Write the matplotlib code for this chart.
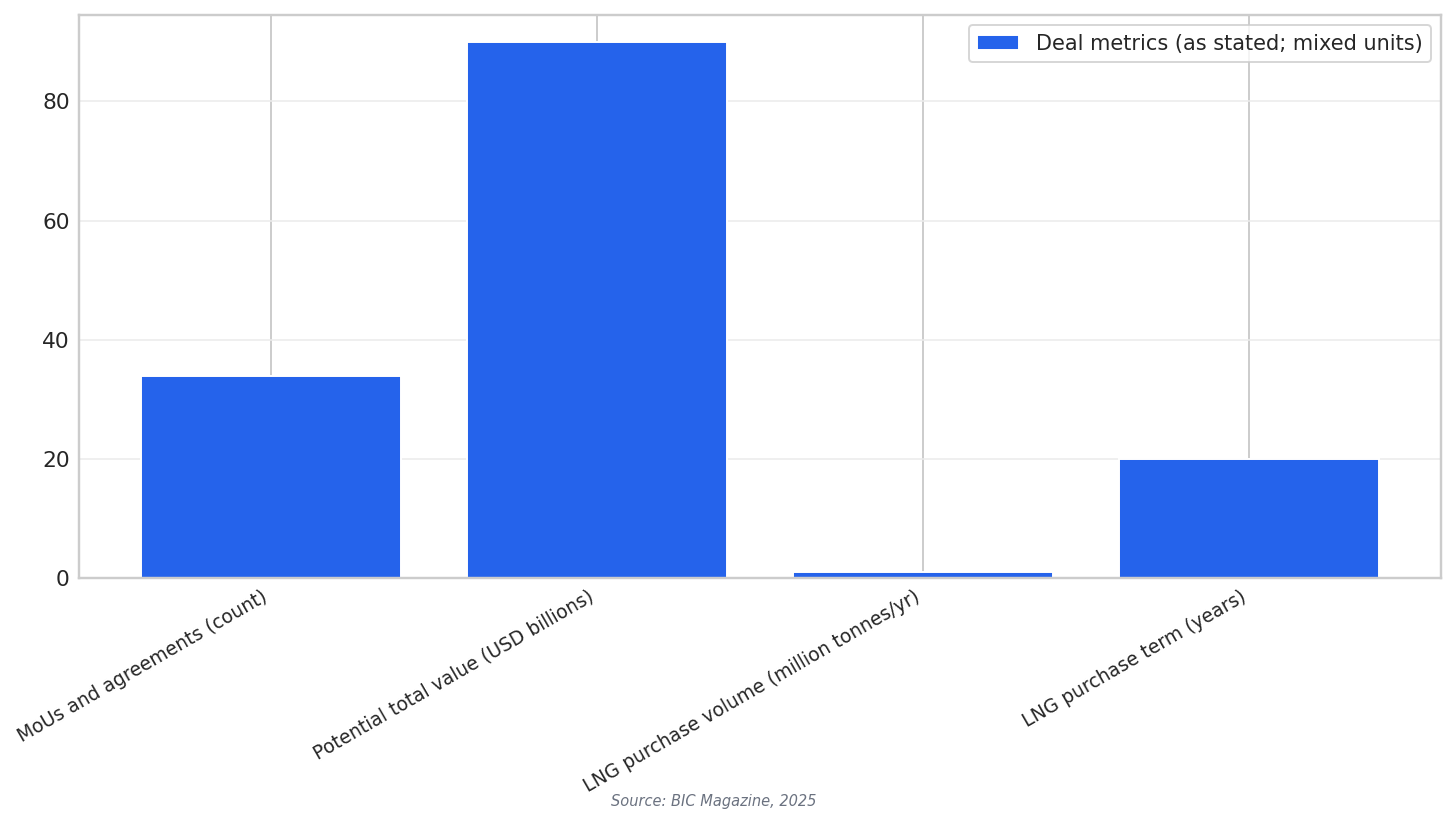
import matplotlib
matplotlib.use('Agg')
import matplotlib.pyplot as plt
import seaborn as sns

categories = [
    'MoUs and agreements (count)',
    'Potential total value (USD billions)',
    'LNG purchase volume (million tonnes/yr)',
    'LNG purchase term (years)',
]
values = [34, 90, 1, 20]
series_label = 'Deal metrics (as stated; mixed units)'
source = 'Source: BIC Magazine, 2025'

sns.set_theme(style='whitegrid')
plt.rcParams['font.family'] = ['DejaVu Sans']

fig, ax = plt.subplots(figsize=(10.4, 5.886), dpi=140)
ax.bar(categories, values, color='#2563eb', label=series_label, zorder=2)
ax.grid(axis='y', color='#ebebeb', linewidth=0.8)
ax.grid(axis='x', color='#cccccc', linewidth=1.0)
for s in ax.spines.values():
    s.set_color('#cccccc')
ax.tick_params(axis='both', length=0, pad=4.5)
ax.tick_params(axis='y', labelsize=11.2)
plt.setp(ax.get_xticklabels(), rotation=30, ha='right', fontsize=9.65)
ax.legend(loc='upper right', fontsize=10.75)
fig.subplots_adjust(left=0.054, right=0.99, top=0.982, bottom=0.298)
fig.text(0.49, 0.022, source, ha='center', fontsize=7.5, style='italic', color='#6b7280')
fig.savefig('out.png', dpi=140)
